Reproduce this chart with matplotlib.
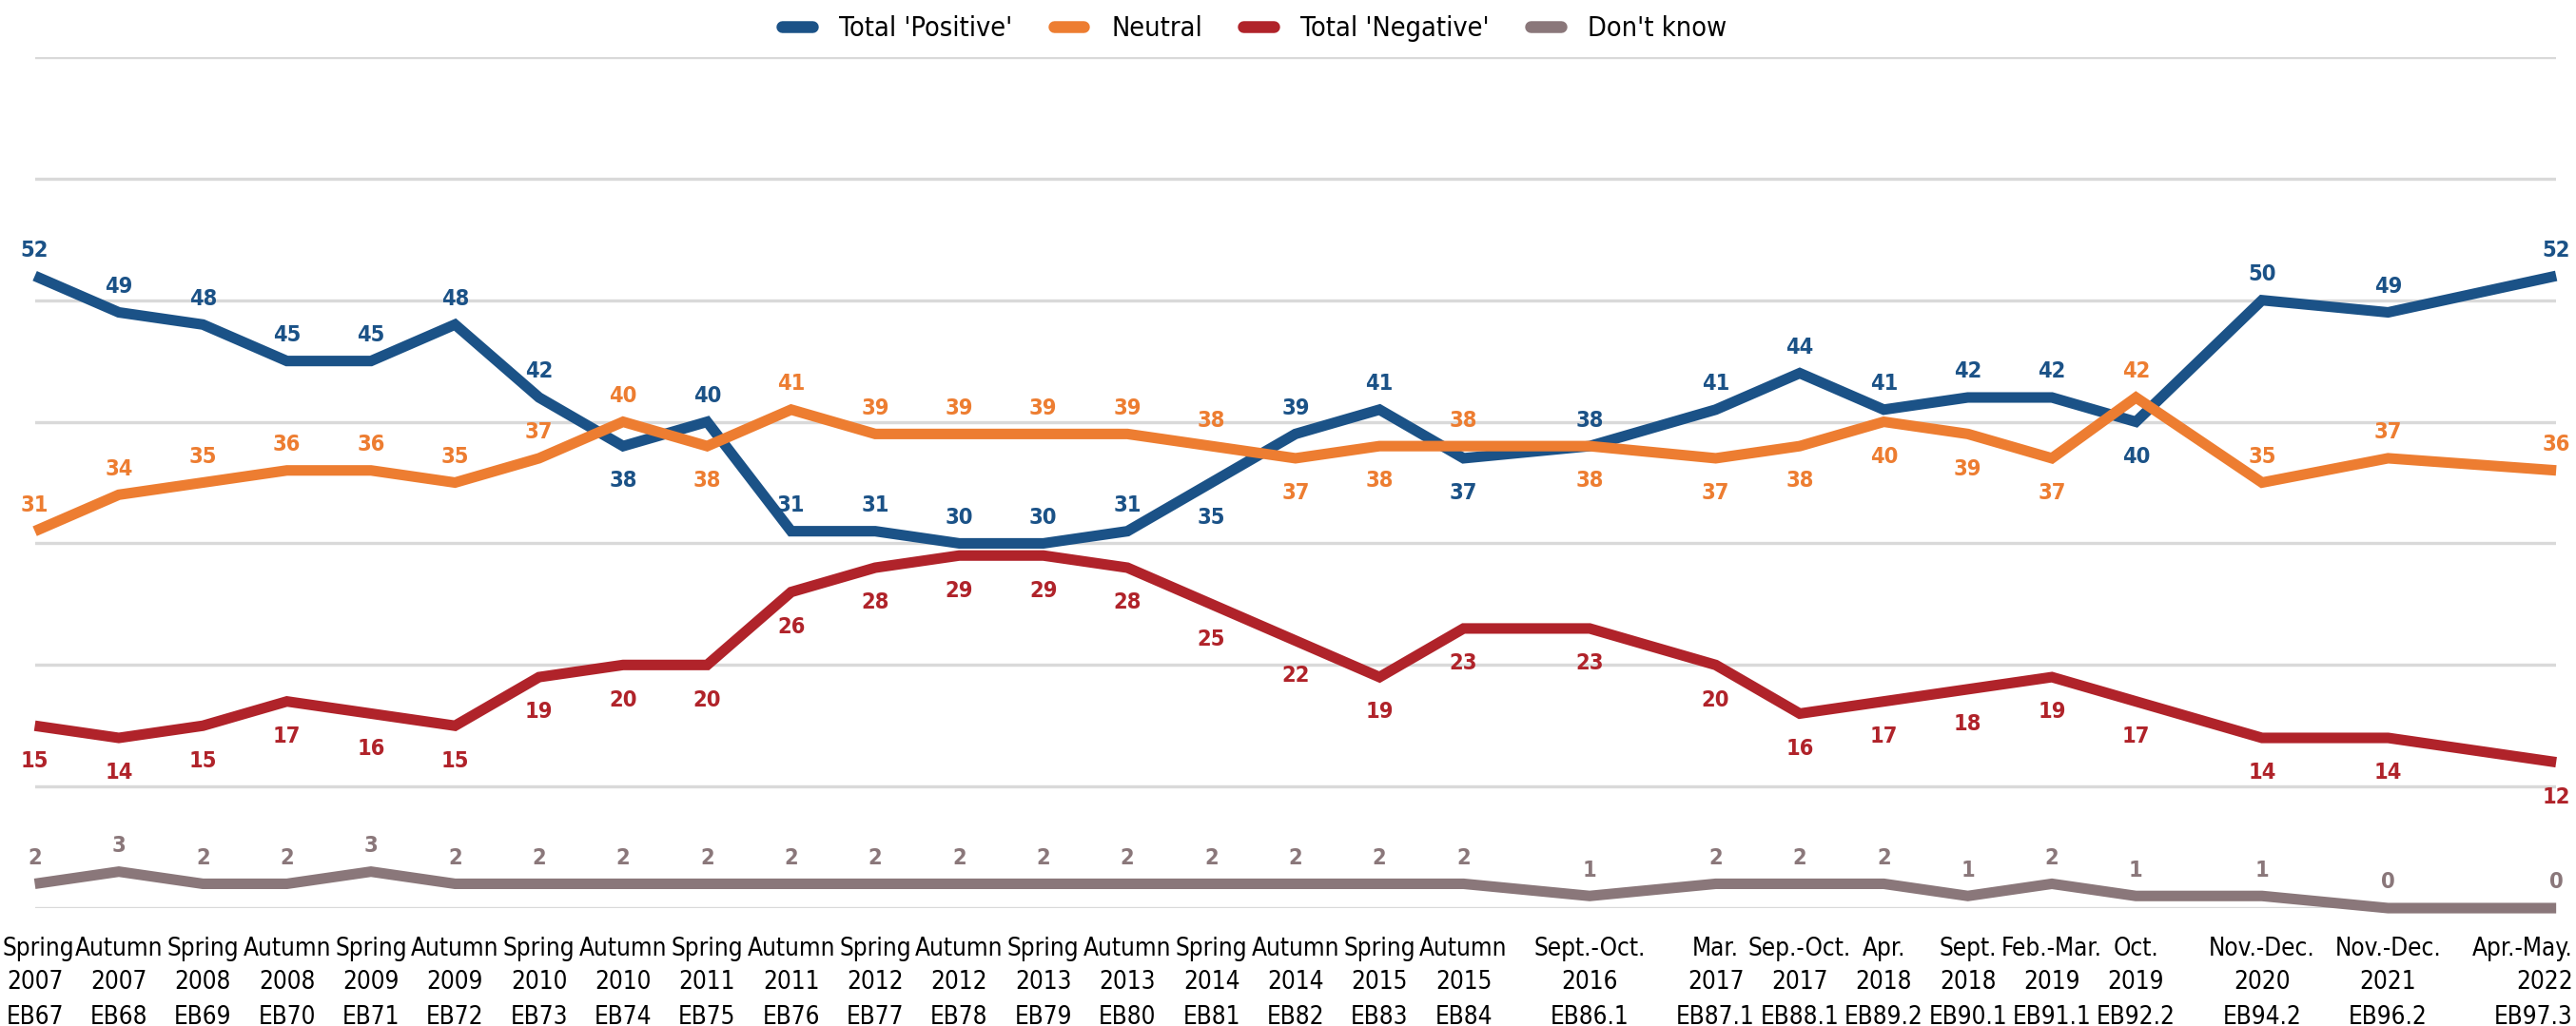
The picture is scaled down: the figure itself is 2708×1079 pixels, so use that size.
import re
import matplotlib
matplotlib.use("Agg")
import matplotlib.pyplot as plt
import matplotlib.font_manager as fm
from matplotlib.textpath import TextPath
from matplotlib.lines import Line2D

# ---------------- data ----------------
wave_season = ["Spring", "Autumn", "Spring", "Autumn", "Spring", "Autumn", "Spring", "Autumn",
               "Spring", "Autumn", "Spring", "Autumn", "Spring", "Autumn", "Spring", "Autumn",
               "Spring", "Autumn", "Sept.-Oct.", "Mar.", "Sep.-Oct.", "Apr.", "Sept.", "Feb.-Mar.",
               "Oct.", "Nov.-Dec.", "Nov.-Dec.", "Apr.-May."]
wave_year = ["2007", "2007", "2008", "2008", "2009", "2009", "2010", "2010", "2011", "2011",
             "2012", "2012", "2013", "2013", "2014", "2014", "2015", "2015", "2016", "2017",
             "2017", "2018", "2018", "2019", "2019", "2020", "2021", "2022"]
wave_code = ["EB67", "EB68", "EB69", "EB70", "EB71", "EB72", "EB73", "EB74", "EB75", "EB76",
             "EB77", "EB78", "EB79", "EB80", "EB81", "EB82", "EB83", "EB84", "EB86.1", "EB87.1",
             "EB88.1", "EB89.2", "EB90.1", "EB91.1", "EB92.2", "EB94.2", "EB96.2", "EB97.3"]
# position of each survey wave on the time axis (half-year units)
wave_position = [0, 1, 2, 3, 4, 5, 6, 7, 8, 9, 10, 11, 12, 13, 14, 15, 16, 17,
                 18.5, 20, 21, 22, 23, 24, 25, 26.5, 28, 30]

positive = [52, 49, 48, 45, 45, 48, 42, 38, 40, 31, 31, 30, 30, 31, 35, 39, 41, 37,
            38, 41, 44, 41, 42, 42, 40, 50, 49, 52]
neutral = [31, 34, 35, 36, 36, 35, 37, 40, 38, 41, 39, 39, 39, 39, 38, 37, 38, 38,
           38, 37, 38, 40, 39, 37, 42, 35, 37, 36]
negative = [15, 14, 15, 17, 16, 15, 19, 20, 20, 26, 28, 29, 29, 28, 25, 22, 19, 23,
            23, 20, 16, 17, 18, 19, 17, 14, 14, 12]
dont_know = [2, 3, 2, 2, 3, 2, 2, 2, 2, 2, 2, 2, 2, 2, 2, 2, 2, 2,
             1, 2, 2, 2, 1, 2, 1, 1, 0, 0]

series_names = ["Total 'Positive'", "Neutral", "Total 'Negative'", "Don't know"]

DPI = 100
FIG_W, FIG_H = 2708, 1079


# ---------------- font selection: match the reference's narrow face ----------------
def _wnum(w):
    if isinstance(w, (int, float)):
        return w
    return fm.weight_dict.get(str(w).lower(), 400)


BASES = ['open sans', 'noto sans', 'roboto', 'liberation sans', 'lato', 'inter', 'dejavu sans']
NARROW_RE = re.compile(r'^(\s*(semi|extra|ultra)?\s*-?(condensed|narrow|cond))?\s*$')


def _family_ok(name):
    nm = name.lower()
    for b in BASES:
        if nm.startswith(b) and NARROW_RE.match(nm[len(b):]):
            return True
    return False


def _extent(text, prop):
    return TextPath((0, 0), text, size=100, prop=prop).get_extents()


def choose_regular(target_ratio):
    best = None
    for f in fm.fontManager.ttflist:
        if f.style != 'normal' or not _family_ok(f.name) or _wnum(f.weight) != 400:
            continue
        try:
            p = fm.FontProperties(fname=f.fname)
            w = _extent("Autumn", p).width
            h = _extent("2007", p).height
        except Exception:
            continue
        score = abs(w / h - target_ratio)
        if best is None or score < best[0]:
            best = (score, f)
    return best[1] if best else None


def choose_bold(reg):
    if reg is None:
        return None
    best = None
    for f in fm.fontManager.ttflist:
        if f.style != 'normal' or f.name != reg.name or f.stretch != reg.stretch:
            continue
        w = _wnum(f.weight)
        if w < 600:
            continue
        sc = abs(w - 700)
        if best is None or sc < best[0]:
            best = (sc, f)
    return best[1] if best else None


reg_entry = choose_regular(89.0 / 20.0)
bold_entry = choose_bold(reg_entry)
if reg_entry is not None:
    FP_REG = fm.FontProperties(fname=reg_entry.fname)
else:
    FP_REG = fm.FontProperties(family=['Liberation Sans', 'DejaVu Sans'])
if bold_entry is not None:
    FP_BOLD = fm.FontProperties(fname=bold_entry.fname)
else:
    FP_BOLD = FP_REG.copy()
    FP_BOLD.set_weight('bold')


def fit_size(prop, text_w, target_w, text_h, target_h):
    """font size (pt) fitting a text of target width/height (px) -- geometric mean."""
    w = _extent(text_w, prop).width
    h = _extent(text_h, prop).height
    s_w = target_w * 72.0 / w * 100 / DPI
    s_h = target_h * 72.0 / h * 100 / DPI
    return (s_w * s_h) ** 0.5


tick_size = fit_size(FP_REG, "Autumn", 89, "2007", 20)
label_size = fit_size(FP_BOLD, "52", 27, "52", 17)
legend_size = fit_size(FP_REG, "Total 'Positive'", 175, "T", 21.5)

# ---------------- styling ----------------
colors = ["#1B5287", "#ED7D31", "#B0232A", "#8A777A"]

# label placement (indices where the label sits below the line)
below_sets = [
    {7, 14, 17, 24},
    {8, 15, 16, 18, 19, 20, 21, 22, 23},
    set(range(len(negative))),
    set(),
]

fig = plt.figure(figsize=(FIG_W / DPI, FIG_H / DPI), dpi=DPI)
ax = fig.add_axes([0.0135, 0.1149, 0.9788, 0.8295])

ax.set_xlim(wave_position[0], wave_position[-1])
ax.set_ylim(0, 70)
ax.set_yticks(range(0, 71, 10))
ax.yaxis.grid(True, color="#D9D9D9", linewidth=2.4)
ax.set_axisbelow(True)
for s in ax.spines.values():
    s.set_visible(False)
ax.tick_params(axis='y', left=False, labelleft=False)
ax.set_xticks(wave_position)
ax.tick_params(axis='x', length=0, labelbottom=False)

# three-line category labels (baselines below the axis, in points)
tick_fp = FP_REG.copy()
tick_fp.set_size(tick_size)
category_texts = []
for row, offs in ((wave_season, 36.0), (wave_year, 61.0), (wave_code, 87.5)):
    for xv, txt in zip(wave_position, row):
        t = ax.annotate(txt, xy=(xv, 0), xycoords=('data', 'axes fraction'),
                        xytext=(0, -offs), textcoords='offset points',
                        ha='center', va='baseline', fontproperties=tick_fp,
                        color="#000000", annotation_clip=False)
        category_texts.append(t)

lab_fp = FP_BOLD.copy()
lab_fp.set_size(label_size)

all_series = [positive, neutral, negative, dont_know]
for vals, col, below in zip(all_series, colors, below_sets):
    ax.plot(wave_position, vals, color=col, linewidth=8,
            solid_joinstyle='miter', solid_capstyle='butt', clip_on=False)
    for i, (xv, yv) in enumerate(zip(wave_position, vals)):
        off = -26.5 if i in below else 19.5
        ax.annotate(str(yv), (xv, yv), xytext=(0, off), textcoords='offset points',
                    ha='center', va='center', fontproperties=lab_fp,
                    color=col, annotation_clip=False)

leg_fp = FP_REG.copy()
leg_fp.set_size(legend_size)
handles = [Line2D([0], [0], color=c, linewidth=9, solid_capstyle='round') for c in colors]
fig.legend(handles, series_names, loc='center', bbox_to_anchor=(0.487, 0.972), ncol=4,
           frameon=False, prop=leg_fp, handlelength=1.1, handletextpad=1.0,
           columnspacing=1.5)

# keep the category labels inside the figure (as the original chart does)
fig.canvas.draw()
renderer = fig.canvas.get_renderer()
for t in category_texts:
    bb = t.get_window_extent(renderer)
    shift = 0.0
    if bb.x1 > FIG_W - 3:
        shift = (FIG_W - 3) - bb.x1
    elif bb.x0 < 2:
        shift = 2 - bb.x0
    if shift:
        dx, dy = t.xyann
        t.xyann = (dx + shift * 72.0 / DPI, dy)

fig.savefig("out.png", dpi=DPI)
